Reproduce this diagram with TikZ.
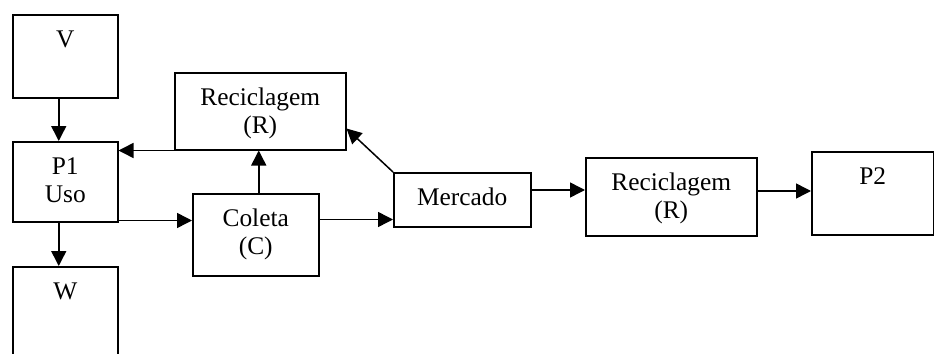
\documentclass[tikz,border=0pt]{standalone}
\usepackage{fontspec}
\setmainfont{Liberation Serif}
\usetikzlibrary{arrows.meta}
\usetikzlibrary{positioning}
\usetikzlibrary{calc}

\begin{document}
\begin{tikzpicture}[>={Triangle[length=7.5pt,width=7.5pt]}, x=0.5pt, y=-0.5pt, line width=0.75pt,
		box/.style={draw, inner sep=0pt, align=center, anchor=north west, text height=16.5pt, font=\fontsize{12.7}{13.8}\selectfont},
		twoline/.style={text height=30.3pt}]
		\useasboundingbox (0,0) rectangle (934,354);
		%coordinates
		\coordinate (ULV)  at (12,14);
		\coordinate (ULP)  at (12,141);
		\coordinate (ULW)  at (12,266);
		\coordinate (ULR)  at (174,72);
		\coordinate (ULC)  at (192,193);
		\coordinate (ULM)  at (393,172);
		\coordinate (ULRR) at (585,157);
		\coordinate (ULPP) at (811,151);
		
		%nodes
		\node[box, minimum width=52.5pt, text depth=25pt] (V) at (ULV) {V};
		\node[box, twoline, minimum width=52.5pt, text depth=9.7pt] (P1) at (ULP) {P1\\Uso};
		\node[box, minimum width=52.5pt, text depth=33.5pt] (W) at (ULW) {W};
		\node[box, twoline, minimum width=85.5pt, text depth=8.2pt] (R) at (ULR) {Reciclagem\\(R)};
		\node[box, twoline, minimum width=63pt, text depth=10.7pt] (C) at (ULC) {Coleta\\(C)};
		\node[box, minimum width=68.5pt, text depth=10.5pt] (M) at (ULM) {Mercado};
		\node[box, twoline, minimum width=85.5pt, text depth=8.7pt] (RR) at (ULRR) {Reciclagem\\(R)};
		\node[box, minimum width=61pt, text depth=25pt] (P2) at (ULPP) {P2};
		
		%arrows
		\coordinate (vd) at ($(V.south)+(-6.5,0)$);
		\draw[->] (vd) -- (vd |- P1.north);
		\coordinate (pd) at ($(P1.south)+(-6.5,0)$);
		\draw[->] (pd) -- (pd |- W.north);
		\draw[->] (R.south west) -- (R.south west -| P1.east);
		\coordinate (cu) at ($(C.north)+(3,0)$);
		\draw[->] (cu) -- (cu |- R.south);
		\coordinate (pc) at ($(P1.south east)+(0,-2)$);
		\draw[->] (pc) -- (pc -| C.west);
		\coordinate (cm) at ($(M.south west)+(0,-8)$);
		\draw[->] (cm -| C.east) -- (cm);
		\draw[->] (M.north west) -- ($(R.south east)+(0,-22)$);
		\coordinate (mr) at ($(M.north east)+(0,18)$);
		\draw[->] (mr) -- (mr -| RR.west);
		\coordinate (rp) at ($(RR.north east)+(0,34)$);
		\draw[->] (rp) -- (rp -| P2.west);
		\end{tikzpicture}
\end{document}
